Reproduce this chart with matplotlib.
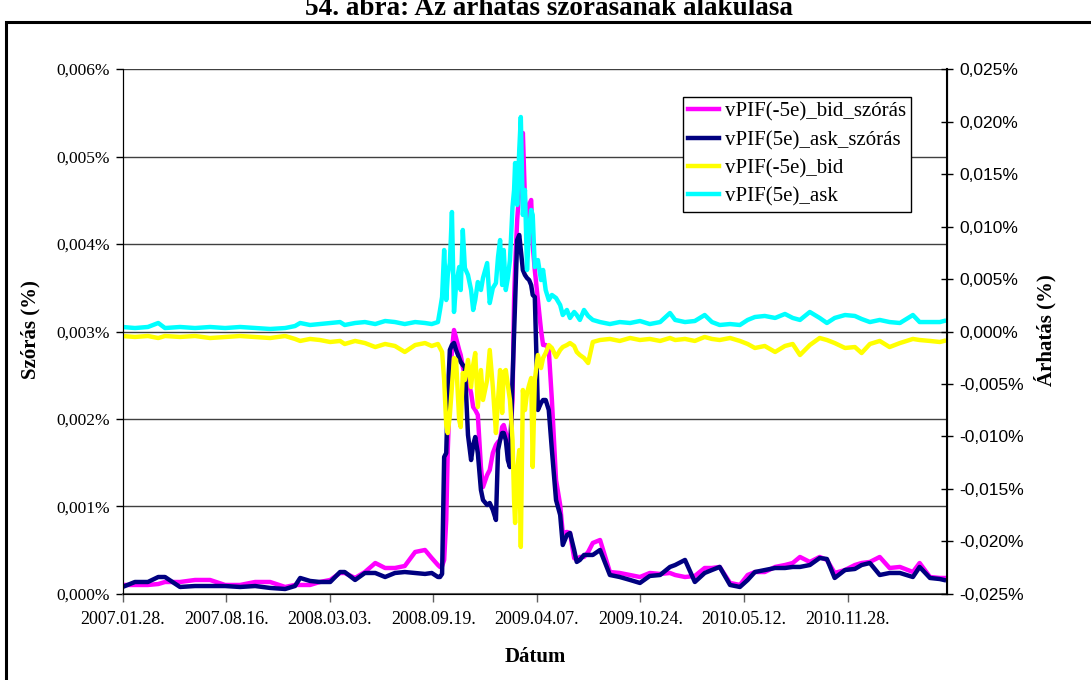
import matplotlib
matplotlib.use("Agg")
import matplotlib.pyplot as plt
from matplotlib.ticker import FuncFormatter, MultipleLocator
from matplotlib.patches import Rectangle
import pandas as pd

plt.rcParams['font.family'] = ['Liberation Serif', 'DejaVu Serif']

start = pd.Timestamp("2007-01-28")

# napok 2007.01.28.-tol
day_offset = [
    0, 24, 49, 69, 82, 111, 140, 169, 198, 227,
    256, 285, 314, 333, 343, 362, 381, 401, 420, 429,
    449, 468, 488, 507, 526, 545, 565, 584, 597, 609,
    613, 617, 621, 625, 628, 632, 636, 640, 644, 650,
    653, 657, 661, 667, 673, 677, 681, 686, 692, 696,
    704, 709, 715, 721, 725, 729, 733, 736, 740, 744,
    748, 753, 756, 758, 762, 766, 769, 773, 777, 781,
    785, 789, 792, 796, 802, 808, 812, 817, 823, 829,
    837, 845, 850, 858, 864, 872, 877, 883, 891, 899,
    908, 922, 941, 960, 980, 999, 1018, 1038, 1057, 1067,
    1086, 1105, 1124, 1138, 1153, 1173, 1192, 1207, 1221, 1240,
    1260, 1279, 1294, 1308, 1327, 1346, 1360, 1375, 1395, 1414,
    1427, 1443, 1462, 1481, 1501, 1526, 1539, 1559, 1578, 1586,
]

# vPIF(-5e)_bid_szórás, %
bid_std = [
    0.000103, 0.000103, 0.000103, 0.000114, 0.000137, 0.000137, 0.000160, 0.000160, 0.000103, 0.000103,
    0.000137, 0.000137, 0.000080, 0.000103, 0.000103, 0.000103, 0.000137, 0.000160, 0.000240, 0.000240,
    0.000183, 0.000251, 0.000354, 0.000297, 0.000297, 0.000320, 0.000480, 0.000503, 0.000411, 0.000331,
    0.000309, 0.000320, 0.000389, 0.000846, 0.001646, 0.002331, 0.002789, 0.003017, 0.002926, 0.002789,
    0.002731, 0.002594, 0.002503, 0.002446, 0.002297, 0.002137, 0.002103, 0.002046, 0.001451, 0.001223,
    0.001360, 0.001417, 0.001611, 0.001703, 0.001737, 0.001760, 0.001909, 0.001931, 0.001840, 0.001760,
    0.001703, 0.002217, 0.003360, 0.003737, 0.004274, 0.004617, 0.005074, 0.005269, 0.004503, 0.004309,
    0.004446, 0.004503, 0.003989, 0.003703, 0.003360, 0.003017, 0.002846, 0.002846, 0.002789, 0.002217,
    0.001303, 0.001017, 0.000697, 0.000709, 0.000697, 0.000411, 0.000389, 0.000423, 0.000423, 0.000480,
    0.000583, 0.000617, 0.000251, 0.000240, 0.000217, 0.000194, 0.000240, 0.000229, 0.000240, 0.000217,
    0.000194, 0.000206, 0.000297, 0.000297, 0.000309, 0.000126, 0.000103, 0.000217, 0.000251, 0.000251,
    0.000309, 0.000331, 0.000354, 0.000423, 0.000366, 0.000423, 0.000389, 0.000240, 0.000274, 0.000331,
    0.000354, 0.000366, 0.000423, 0.000297, 0.000309, 0.000251, 0.000354, 0.000194, 0.000183, 0.000183,
]

# vPIF(5e)_ask_szórás, %
ask_std = [
    0.000080, 0.000137, 0.000137, 0.000194, 0.000194, 0.000080, 0.000091, 0.000091, 0.000091, 0.000080,
    0.000091, 0.000069, 0.000057, 0.000091, 0.000183, 0.000149, 0.000137, 0.000137, 0.000251, 0.000251,
    0.000160, 0.000240, 0.000240, 0.000194, 0.000240, 0.000251, 0.000240, 0.000229, 0.000240, 0.000194,
    0.000194, 0.000229, 0.001566, 0.001611, 0.002251, 0.002789, 0.002846, 0.002869, 0.002789, 0.002697,
    0.002651, 0.002617, 0.002594, 0.001817, 0.001531, 0.001703, 0.001794, 0.001611, 0.001189, 0.001074,
    0.001017, 0.001040, 0.000960, 0.000846, 0.001646, 0.001760, 0.001840, 0.001840, 0.001760, 0.001531,
    0.001451, 0.002446, 0.002983, 0.003360, 0.004046, 0.004103, 0.003931, 0.003703, 0.003646, 0.003611,
    0.003589, 0.003531, 0.003417, 0.003394, 0.002103, 0.002183, 0.002217, 0.002217, 0.002103, 0.001646,
    0.001074, 0.000903, 0.000560, 0.000674, 0.000697, 0.000503, 0.000366, 0.000389, 0.000446, 0.000446,
    0.000446, 0.000503, 0.000217, 0.000194, 0.000160, 0.000126, 0.000206, 0.000217, 0.000309, 0.000331,
    0.000389, 0.000137, 0.000240, 0.000274, 0.000309, 0.000103, 0.000080, 0.000160, 0.000251, 0.000274,
    0.000297, 0.000297, 0.000309, 0.000309, 0.000331, 0.000411, 0.000400, 0.000183, 0.000274, 0.000286,
    0.000331, 0.000354, 0.000217, 0.000240, 0.000240, 0.000194, 0.000309, 0.000183, 0.000171, 0.000160,
]

# vPIF(-5e)_bid, %
bid = [
    -0.00043, -0.00052, -0.00043, -0.00062, -0.00043, -0.00052, -0.00043, -0.00062, -0.00052, -0.00043,
    -0.00052, -0.00062, -0.00043, -0.00071, -0.00090, -0.00071, -0.00081, -0.00100, -0.00090, -0.00119,
    -0.00090, -0.00110, -0.00148, -0.00119, -0.00138, -0.00195, -0.00129, -0.00110, -0.00138, -0.00119,
    -0.00157, -0.00195, -0.00462, -0.00890, -0.00967, -0.00795, -0.00529, -0.00252, -0.00271, -0.00843,
    -0.00910, -0.00395, -0.00462, -0.00271, -0.00529, -0.00319, -0.00205, -0.00719, -0.00367, -0.00652,
    -0.00462, -0.00176, -0.00529, -0.00967, -0.00652, -0.00367, -0.00776, -0.00386, -0.00367, -0.00510,
    -0.00652, -0.01033, -0.01605, -0.01824, -0.01319, -0.01129, -0.02052, -0.00557, -0.00748, -0.00586,
    -0.00510, -0.00443, -0.01290, -0.00462, -0.00224, -0.00348, -0.00252, -0.00205, -0.00129, -0.00157,
    -0.00243, -0.00176, -0.00148, -0.00129, -0.00110, -0.00138, -0.00195, -0.00224, -0.00252, -0.00300,
    -0.00100, -0.00081, -0.00071, -0.00090, -0.00062, -0.00081, -0.00071, -0.00090, -0.00062, -0.00081,
    -0.00071, -0.00090, -0.00052, -0.00071, -0.00081, -0.00062, -0.00090, -0.00119, -0.00157, -0.00138,
    -0.00195, -0.00138, -0.00119, -0.00224, -0.00129, -0.00062, -0.00081, -0.00110, -0.00157, -0.00148,
    -0.00205, -0.00119, -0.00090, -0.00148, -0.00110, -0.00071, -0.00081, -0.00090, -0.00100, -0.00090,
]

# vPIF(5e)_ask, %
ask = [
    0.00043, 0.00033, 0.00043, 0.00081, 0.00033, 0.00043, 0.00033, 0.00043, 0.00033, 0.00043,
    0.00033, 0.00024, 0.00033, 0.00052, 0.00081, 0.00062, 0.00071, 0.00081, 0.00090, 0.00062,
    0.00081, 0.00090, 0.00071, 0.00100, 0.00090, 0.00071, 0.00090, 0.00081, 0.00071, 0.00090,
    0.00205, 0.00329, 0.00776, 0.00300, 0.00538, 0.00652, 0.01138, 0.00186, 0.00443, 0.00614,
    0.00395, 0.00967, 0.00605, 0.00538, 0.00395, 0.00205, 0.00300, 0.00471, 0.00395, 0.00510,
    0.00652, 0.00271, 0.00414, 0.00462, 0.00710, 0.00871, 0.00443, 0.00776, 0.00395, 0.00510,
    0.00681, 0.01186, 0.01348, 0.01605, 0.01205, 0.01729, 0.02043, 0.01110, 0.01348, 0.00586,
    0.00967, 0.01157, 0.01110, 0.00614, 0.00681, 0.00490, 0.00586, 0.00395, 0.00300, 0.00348,
    0.00319, 0.00252, 0.00157, 0.00205, 0.00129, 0.00186, 0.00157, 0.00110, 0.00205, 0.00148,
    0.00110, 0.00090, 0.00071, 0.00090, 0.00081, 0.00100, 0.00071, 0.00090, 0.00176, 0.00110,
    0.00090, 0.00100, 0.00157, 0.00090, 0.00062, 0.00071, 0.00062, 0.00110, 0.00138, 0.00148,
    0.00129, 0.00167, 0.00129, 0.00110, 0.00186, 0.00129, 0.00081, 0.00129, 0.00157, 0.00148,
    0.00119, 0.00090, 0.00110, 0.00090, 0.00081, 0.00157, 0.00090, 0.00090, 0.00090, 0.00100,
]

tick_days = [0, 200, 400, 600, 800, 1000, 1200, 1400]
tick_labels = [(start + pd.Timedelta(days=d)).strftime("%Y.%m.%d.") for d in tick_days]


def pct(v, pos):
    s = f"{v:.3f}%".replace(".", ",")
    if s == "-0,000%":
        s = "0,000%"
    return s


fig = plt.figure(figsize=(10.91, 6.80), dpi=100)
ax = fig.add_axes([0.1123, 0.1265, 0.7553, 0.772])
ax2 = ax.twinx()

l1, = ax.plot(day_offset, bid_std, color='#FF00FF', lw=3.2, label='vPIF(-5e)_bid_szórás')
l2, = ax.plot(day_offset, ask_std, color='#000080', lw=3.2, label='vPIF(5e)_ask_szórás')
l3, = ax2.plot(day_offset, bid, color='#FFFF00', lw=3.2, label='vPIF(-5e)_bid')
l4, = ax2.plot(day_offset, ask, color='#00FFFF', lw=3.2, label='vPIF(5e)_ask')

ax.set_xlim(0, 1591)
ax.set_ylim(0, 0.006)
ax2.set_ylim(-0.025, 0.025)
ax.yaxis.set_major_locator(MultipleLocator(0.001))
ax2.yaxis.set_major_locator(MultipleLocator(0.005))
ax.yaxis.set_major_formatter(FuncFormatter(pct))
ax2.yaxis.set_major_formatter(FuncFormatter(pct))
ax.set_xticks(tick_days)
ax.set_xticklabels(tick_labels)

ax.yaxis.grid(True, color='#404040', lw=1.0)
ax.set_axisbelow(True)

for a in (ax, ax2):
    a.spines['top'].set_visible(False)
ax.spines['left'].set_color('black')
ax.spines['bottom'].set_color('#606060')
ax.spines['bottom'].set_linewidth(1.5)
ax2.spines['right'].set_color('black')
ax2.spines['right'].set_linewidth(1.5)

ax.tick_params(axis='y', direction='out', length=5, width=1, labelsize=12.5, pad=4)
ax.tick_params(axis='x', direction='out', length=6, width=1, color='#606060', labelsize=13, pad=6)
ax2.tick_params(axis='y', direction='inout', length=8, width=1, labelsize=12.5, pad=5)
for t in ax2.get_yticklabels():
    t.set_family(['Liberation Sans', 'DejaVu Sans'])

fig.text(549 / 1091, 1 - 15 / 680, "54. ábra: Az árhatás szórásának alakulása",
         ha='center', va='baseline', fontsize=19.5, weight='bold')
fig.text(30 / 1091, 1 - 330 / 680, "Szórás (%)", rotation=90, ha='center', va='center',
         fontsize=15, weight='bold')
fig.text(1045 / 1091, 1 - 330 / 680, "Árhatás (%)", rotation=90, ha='center', va='center',
         fontsize=15, weight='bold')
fig.text(535 / 1091, 1 - 657 / 680, "Dátum", ha='center', va='center', fontsize=15, weight='bold')

leg = ax2.legend(handles=[l1, l2, l3, l4], loc='upper left',
                 bbox_to_anchor=(683 / 1091, 1 - 97 / 680), bbox_transform=fig.transFigure,
                 fontsize=15, frameon=True, fancybox=False, framealpha=1, edgecolor='black',
                 borderaxespad=0, borderpad=0.25, handlelength=1.5, handletextpad=0.25,
                 labelspacing=0.42)
leg.get_frame().set_linewidth(1.0)

fig.patches.append(Rectangle((6 / 1091, -0.1), 1.2, 1.1 - 22 / 680, transform=fig.transFigure,
                             fill=False, edgecolor='black', lw=2.2))

fig.savefig("out.png", dpi=100)
